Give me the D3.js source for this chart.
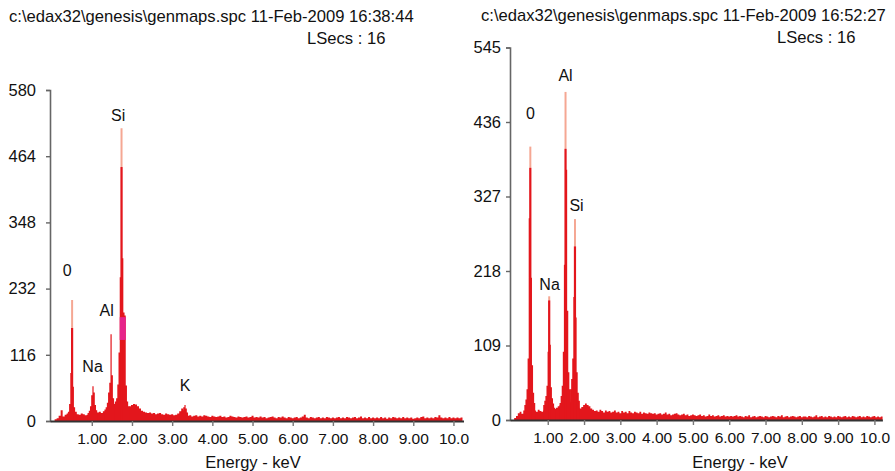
<!DOCTYPE html>
<html><head><meta charset="utf-8">
<script src="https://cdn.jsdelivr.net/npm/d3@7"></script>
<style>
body{margin:0;background:#fff;}
svg{display:block;font-family:"Liberation Sans",Arial,Helvetica,sans-serif;}
</style></head><body>
<svg id="chart" width="895" height="471"></svg>
<script>
// ---------- DATA ----------
const xTickValues = [1,2,3,4,5,6,7,8,9,10];
const xTickLabels = ["1.00","2.00","3.00","4.00","5.00","6.00","7.00","8.00","9.00","10.0"];
const xAxisTitle = "Energy - keV";

const leftTitle = "c:\\edax32\\genesis\\genmaps.spc 11-Feb-2009 16:38:44";
const leftSubtitle = "LSecs : 16";
const leftYTicks = [0,116,232,348,464,580];
const rightTitle = "c:\\edax32\\genesis\\genmaps.spc 11-Feb-2009 16:52:27";
const rightSubtitle = "LSecs : 16";
const rightYTicks = [0,109,218,327,436,545];

// background counts, one channel every 0.05 keV starting at 0.10 keV
const bgStart = 0.10, bgStep = 0.05;
const leftBackground = [
 3,5,9,19,8,11,13,10,12,14,16,12,11,13,12,10,11,14,12,15,
 18,15,16,14,17,19,18,22,24,30,34,28,24,20,19,18,22,26,28,30,
 29,26,22,18,16,15,14,15,13,14,12,13,14,12,11,13,12,11,12,10,
 11,13,17,22,14,10,9,10,8,9,10,8,9,8,10,9,8,7,9,8,
 7,8,9,7,8,6,7,9,8,7,6,8,7,6,7,8,6,7,9,6,
 7,6,8,6,7,5,6,7,8,6,5,7,6,8,6,5,7,6,5,6,
 7,5,6,8,11,6,5,7,6,5,6,7,5,6,5,7,6,5,6,5,
 6,7,5,6,5,7,6,5,6,7,5,6,8,5,6,5,7,5,6,5,
 6,5,7,5,6,4,6,5,7,6,5,6,5,7,5,6,5,6,4,5,
 6,5,7,8,5,6,5,6,5,7,6,10,6,5,6,5,7,5,6,5,
 6,5,6
];
const rightBackground = [
 3,6,10,12,9,14,12,15,13,18,16,14,12,15,13,12,14,16,15,17,
 15,14,16,18,20,22,24,28,32,35,30,26,24,22,20,18,17,19,22,24,
 22,20,17,15,13,14,12,15,13,11,14,12,13,11,12,14,11,12,10,13,
 11,12,10,13,11,10,12,11,10,12,9,11,10,9,11,10,9,10,8,9,
 10,8,9,11,8,9,7,8,9,10,8,7,8,9,7,8,6,7,8,7,
 6,7,8,6,7,5,6,8,6,7,5,6,7,5,6,7,5,6,5,6,
 5,6,7,5,6,5,4,6,5,7,4,5,6,4,5,6,5,4,6,5,
 4,5,6,5,4,6,5,7,4,5,6,4,5,6,5,4,5,6,4,5,
 5,4,6,5,4,5,7,4,5,6,4,5,4,6,5,4,5,4,6,5,
 4,5,6,4,5,4,6,5,4,5,6,4,5,4,6,5,4,5,6,4,
 5,4,5
];

// peak channels (0.03 keV wide): [energy keV, counts]
const leftPeakO  = [[0.39,12],[0.42,16],[0.45,30],[0.48,84],[0.51,163],[0.54,60],[0.57,24],[0.60,15]];
const leftPeakNa = [[0.91,14],[0.94,18],[0.97,26],[1.00,45],[1.03,61],[1.06,50],[1.09,28],[1.12,19]];
const leftPeakAl = [[1.33,20],[1.36,24],[1.39,32],[1.42,50],[1.45,67],[1.48,152],[1.51,80],[1.54,40],[1.57,30]];
const leftPeakSi = [[1.59,32],[1.62,40],[1.65,64],[1.68,120],[1.71,252],[1.74,445],[1.77,285],[1.80,190],[1.83,185],[1.86,62],[1.89,34],[1.92,26]];
const leftPeakK  = [[3.20,13],[3.23,16],[3.26,19],[3.29,24],[3.32,28],[3.35,22],[3.38,15]];
// unresolved spike tops: [energy, base counts, top counts]
const leftSpikeTops = [[0.51,163,212],[1.74,445,513]];
// highlighted window [e0, e1, c0, c1]
const leftWindow = [1.695,1.845,142,182];
// element labels: [text, energy, counts]
const leftLabels = [["Si",1.655,526],["0",0.386,254],["Al",1.369,184],["Na",1.02,86],["K",3.32,53]];

const rightPeakO  = [[0.37,22],[0.40,30],[0.43,45],[0.46,90],[0.49,295],[0.52,369],[0.55,208],[0.58,80],[0.61,40],[0.64,25]];
const rightPeakNa = [[0.89,22],[0.92,28],[0.95,35],[0.98,50],[1.01,100],[1.04,175],[1.07,110],[1.10,48],[1.13,32],[1.16,24],[1.19,18]];
const rightPeakAl = [[1.34,25],[1.37,35],[1.40,50],[1.43,100],[1.46,227],[1.49,397],[1.52,366],[1.55,160],[1.58,70],[1.61,45]];
const rightPeakSi = [[1.63,45],[1.66,60],[1.69,90],[1.72,180],[1.75,254],[1.78,150],[1.81,70],[1.84,40],[1.87,28]];
const rightSpikeTops = [[0.52,369,400],[1.04,175,181],[1.49,397,480],[1.75,254,294]];
const rightLabels = [["0",0.526,440],["Al",1.49,496],["Si",1.793,306],["Na",1.05,190]];

// ---------- DRAW ----------
const svg = d3.select("#chart");
const RED = "#e3161c", LIGHT = "#f5a793", MAGENTA = "#e6238a";

function panel(cfg){
  const g = svg.append("g");
  const x = d3.scaleLinear().domain([-0.04, cfg.xMax]).range([cfg.x0, cfg.x1]);
  const y = d3.scaleLinear().domain([0, cfg.yMax]).range([cfg.yB, cfg.yT]);
  const area = d3.area().x(d=>x(d[0])).y0(y(0)).y1(d=>y(d[1])).curve(d3.curveStep);

  const bg = cfg.bg.map((c,i)=>[bgStart + i*bgStep, c]);
  const bgPts = [[bgStart-bgStep,0], ...bg, [bg[bg.length-1][0]+bgStep,0]];
  g.append("path").attr("d", area(bgPts)).attr("fill", RED);

  cfg.peaks.forEach(p=>{
    const s = 0.03;
    const pts = [[p[0][0]-s,0], ...p, [p[p.length-1][0]+s,0]];
    g.append("path").attr("d", area(pts)).attr("fill", RED);
  });
  cfg.tops.forEach(t=>{
    g.append("line").attr("x1",x(t[0])).attr("x2",x(t[0]))
     .attr("y1",y(t[1])).attr("y2",y(t[2])).attr("stroke",LIGHT).attr("stroke-width",2);
    g.append("line").attr("x1",x(t[0])).attr("x2",x(t[0]))
     .attr("y1",y(0)).attr("y2",y(t[1])).attr("stroke",RED).attr("stroke-width",2.2);
  });
  if(cfg.win){
    const w = cfg.win;
    g.append("rect").attr("x", x(w[0])).attr("width", x(w[1])-x(w[0]))
      .attr("y", y(w[3])).attr("height", y(w[2])-y(w[3])).attr("fill", MAGENTA);
  }

  // axes
  const ya = g.append("g").attr("transform",`translate(${cfg.x0},0)`)
    .call(d3.axisLeft(y).tickValues(cfg.yTicks).tickFormat(d3.format("d")).tickSize(4).tickPadding(cfg.yPad));
  ya.selectAll("text").attr("font-size",16.5).attr("fill","#111").attr("font-family","Liberation Sans, Arial, sans-serif");
  ya.select(".domain").attr("stroke","#666").attr("stroke-width",1.6);
  ya.selectAll(".tick line").attr("stroke","#666").attr("stroke-width",1.4);

  const xa = g.append("g").attr("transform",`translate(0,${cfg.yB})`)
    .call(d3.axisBottom(x).tickValues(xTickValues).tickFormat((d,i)=>xTickLabels[i]).tickSizeInner(5).tickSizeOuter(0).tickPadding(7));
  xa.selectAll("text").attr("font-size",15.5).attr("fill","#111").attr("font-family","Liberation Sans, Arial, sans-serif");
  xa.select(".domain").attr("stroke","#333").attr("stroke-width",2);
  xa.selectAll(".tick line").attr("stroke","#777").attr("stroke-width",1.4);

  // labels
  cfg.labels.forEach(l=>{
    g.append("text").attr("x",x(l[1])).attr("y",y(l[2])).attr("text-anchor","middle")
      .attr("font-size",16).attr("fill","#111").text(l[0]);
  });
  g.append("text").attr("x",cfg.xTitleX).attr("y",467.5).attr("text-anchor","middle")
    .attr("font-size",16.5).attr("fill","#111").text(xAxisTitle);
  g.append("text").attr("x",cfg.tX).attr("y",cfg.tY).attr("font-size",16.6).attr("fill","#111").text(cfg.title);
  g.append("text").attr("x",cfg.sX).attr("y",cfg.sY).attr("font-size",16.6).attr("fill","#111").text(cfg.sub);
}

panel({x0:50, x1:463.5, xMax:10.25, yB:421, yT:90, yMax:580, yTicks:leftYTicks, yPad:10,
  bg:leftBackground, peaks:[leftPeakO,leftPeakNa,leftPeakAl,leftPeakSi,leftPeakK],
  tops:leftSpikeTops, win:leftWindow, labels:leftLabels, xTitleX:253,
  title:leftTitle, tX:9, tY:22, sub:leftSubtitle, sX:307, sY:44});

panel({x0:510, x1:882.4, xMax:10.22, yB:420, yT:47.5, yMax:545, yTicks:rightYTicks, yPad:5,
  bg:rightBackground, peaks:[rightPeakO,rightPeakNa,rightPeakAl,rightPeakSi],
  tops:rightSpikeTops, win:null, labels:rightLabels, xTitleX:740,
  title:rightTitle, tX:481, tY:21, sub:rightSubtitle, sX:777, sY:43});
</script>
</body></html>
